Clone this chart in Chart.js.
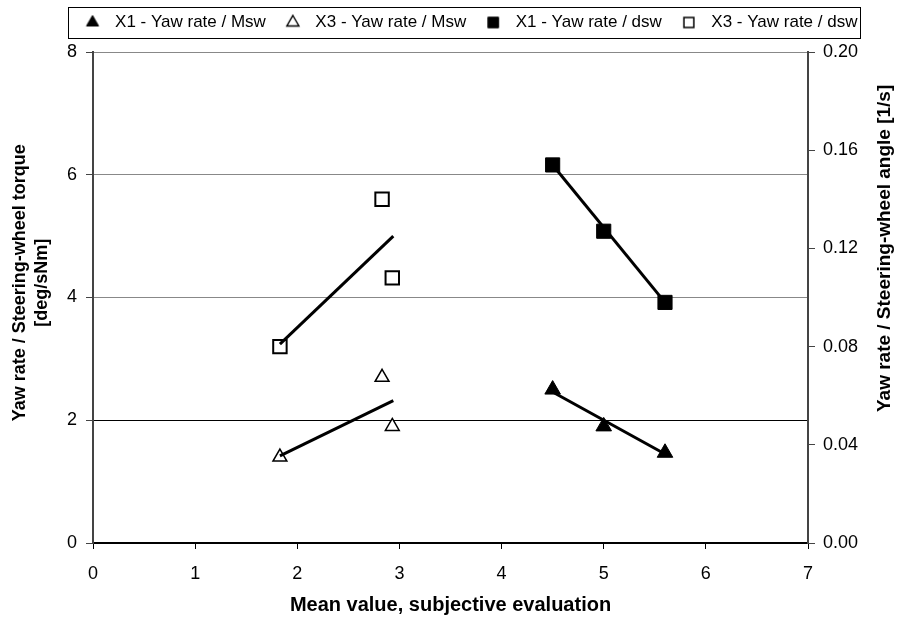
<!DOCTYPE html>
<html>
<head>
<meta charset="utf-8">
<script src="https://cdn.jsdelivr.net/npm/chart.js@4.4.1/dist/chart.umd.min.js"></script>
<style>
  html, body { margin: 0; padding: 0; background: #fff; }
  #wrap { width: 899px; height: 619px; }
</style>
</head>
<body>
<div id="wrap"><canvas id="yawChart" width="899" height="619"></canvas></div>
<script>
const x1Mean = [4.5, 5.0, 5.6];
const x3Mean = [1.83, 2.83, 2.93];
const x1YawMsw = [2.5, 1.9, 1.47];
const x3YawMsw = [1.4, 2.7, 1.9];
const x1YawDsw = [0.154, 0.127, 0.098];
const x3YawDsw = [0.08, 0.14, 0.108];

// trend line end points
const x1TrendX = [4.5, 5.6];
const x3TrendX = [1.83, 2.94];
const x1TrendMsw = [2.46, 1.45];
const x3TrendMsw = [1.42, 2.32];
const x1TrendDsw = [0.154, 0.098];
const x3TrendDsw = [0.081, 0.125];

const xTicks = [0, 1, 2, 3, 4, 5, 6, 7];
const leftTicks = [0, 2, 4, 6, 8];
const rightTicks = [0, 0.04, 0.08, 0.12, 0.16, 0.20];

const leftTitle = ['Yaw rate / Steering-wheel torque', '[deg/sNm]'];
const rightTitle = 'Yaw rate / Steering-wheel angle [1/s]';

const FONT = "'Liberation Sans', Arial, sans-serif";
Chart.defaults.font.family = FONT;
Chart.defaults.color = '#000';

const pts = (xs, ys) => xs.map((x, i) => ({ x: x, y: ys[i] }));
const setTicks = list => scale => { scale.ticks = list.map(v => ({ value: v })); };

// small legend icon, drawn with the library's own point routine
function legendIcon(style, filled, radius, bw) {
    const c = document.createElement('canvas');
    c.width = 18; c.height = 18;
    const g = c.getContext('2d');
    g.fillStyle = filled ? '#000' : '#fff';
    g.strokeStyle = '#000';
    g.lineWidth = bw;
    Chart.helpers.drawPoint(g, { pointStyle: style, radius: radius, borderWidth: bw, rotation: 0 }, 9, 9);
    return c;
}

function marker(label, data, axis, style, filled, radius, bw, icon) {
    return {
        label: label, data: data, yAxisID: axis, order: 1, showLine: false, legendIcon: icon,
        pointStyle: style, pointRadius: radius, pointHoverRadius: radius,
        backgroundColor: filled ? '#000' : '#fff', borderColor: '#000',
        pointBackgroundColor: filled ? '#000' : '#fff', pointBorderColor: '#000',
        pointBorderWidth: bw, borderWidth: bw
    };
}
function trend(data, axis) {
    return { trend: true, label: '', data: data, yAxisID: axis, order: 0, showLine: true,
        borderColor: '#000', borderWidth: 3, pointRadius: 0, fill: false };
}

// legend height / offset so the plot and legend sit where the reference has them
const legendPlace = {
    id: 'legendPlace',
    beforeInit(chart) {
        const lg = chart.legend;
        const fit = lg.fit;
        lg.fit = function () { fit.call(this); this.height = 51; };
    },
    afterLayout(chart) {
        chart.legend.left += 37;
    }
};

function rotatedText(ctx, lines, x, y, size, lineGap) {
    ctx.save();
    ctx.translate(x, y);
    ctx.rotate(-Math.PI / 2);
    ctx.font = 'bold ' + size + 'px ' + FONT;
    ctx.fillStyle = '#000';
    ctx.textAlign = 'center';
    ctx.textBaseline = 'middle';
    lines.forEach((t, i) => ctx.fillText(t, 0, i * lineGap));
    ctx.restore();
}

// border round the legend + both y axis titles (read upward)
const extras = {
    id: 'extras',
    afterDraw(chart) {
        const ctx = chart.ctx;
        const hb = chart.legend.legendHitBoxes;
        if (hb && hb.length) {
            const last = hb[hb.length - 1];
            const l = hb[0].left - 11, r = last.left + last.width + 2;
            const t = hb[0].top - 7, b = hb[0].top + hb[0].height + 7;
            ctx.save();
            ctx.strokeStyle = '#000';
            ctx.lineWidth = 1;
            ctx.strokeRect(Math.round(l) + 0.5, Math.round(t) + 0.5, Math.round(r - l), Math.round(b - t));
            ctx.restore();
        }
        const yl = chart.scales.y, yr = chart.scales.y1;
        rotatedText(ctx, leftTitle, 20, yl.top + yl.height * 0.47, 18, 22);
        rotatedText(ctx, [rightTitle], 885, yr.top + yr.height * 0.40, 19, 0);
    }
};

const chart = new Chart(document.getElementById('yawChart'), {
    type: 'scatter',
    data: {
        datasets: [
            marker('X1 - Yaw rate / Msw', pts(x1Mean, x1YawMsw), 'y', 'triangle', true, 9, 1,
                legendIcon('triangle', true, 7, 1)),
            marker('X3 - Yaw rate / Msw', pts(x3Mean, x3YawMsw), 'y', 'triangle', false, 8, 1.5,
                legendIcon('triangle', false, 7, 1.4)),
            marker('X1 - Yaw rate / dsw', pts(x1Mean, x1YawDsw), 'y1', 'rect', true, 10, 1,
                legendIcon('rect', true, 7.5, 1)),
            marker('X3 - Yaw rate / dsw', pts(x3Mean, x3YawDsw), 'y1', 'rect', false, 9.5, 2,
                legendIcon('rect', false, 7, 1.5)),
            trend(pts(x1TrendX, x1TrendMsw), 'y'),
            trend(pts(x3TrendX, x3TrendMsw), 'y'),
            trend(pts(x1TrendX, x1TrendDsw), 'y1'),
            trend(pts(x3TrendX, x3TrendDsw), 'y1')
        ]
    },
    options: {
        responsive: false,
        animation: false,
        layout: { padding: { top: 1, left: 0, right: 0, bottom: 0 } },
        plugins: {
            tooltip: { enabled: false },
            legend: {
                position: 'top',
                labels: {
                    usePointStyle: true, pointStyleWidth: 28, boxHeight: 10, padding: 13,
                    font: { size: 17 }, color: '#000',
                    generateLabels: c => Chart.defaults.plugins.legend.labels.generateLabels(c).map(it => {
                        const ds = c.data.datasets[it.datasetIndex];
                        if (ds.legendIcon) it.pointStyle = ds.legendIcon;
                        return it;
                    }),
                    filter: (item, data) => !data.datasets[item.datasetIndex].trend
                }
            }
        },
        scales: {
            x: {
                type: 'linear', min: 0, max: 7,
                afterBuildTicks: setTicks(xTicks),
                afterFit: s => { s.height = 76; },
                grid: { drawOnChartArea: false, tickLength: 6, tickColor: '#000' },
                border: { color: '#000', width: 2 },
                ticks: { font: { size: 18 }, padding: 14, color: '#000' },
                title: { display: true, text: 'Mean value, subjective evaluation',
                    font: { size: 20, weight: 'bold' }, padding: { top: 0, bottom: 2 }, color: '#000' }
            },
            y: {
                type: 'linear', position: 'left', min: 0, max: 8,
                afterBuildTicks: setTicks(leftTicks),
                afterFit: s => { s.width = 93; },
                grid: {
                    color: c => (c.tick && c.tick.value === 2) ? '#000' : '#888',
                    tickLength: 7, tickColor: '#444', lineWidth: 1
                },
                border: { color: '#444', width: 2 },
                ticks: { font: { size: 18 }, padding: 9, color: '#000' }
            },
            y1: {
                type: 'linear', position: 'right', min: 0, max: 0.2,
                afterBuildTicks: setTicks(rightTicks),
                afterFit: s => { s.width = 91; },
                grid: { drawOnChartArea: false, tickLength: 7, tickColor: '#444' },
                border: { color: '#444', width: 2 },
                ticks: { font: { size: 18 }, padding: 8, color: '#000', callback: v => v.toFixed(2) }
            }
        }
    },
    plugins: [legendPlace, extras]
});
</script>
</body>
</html>
